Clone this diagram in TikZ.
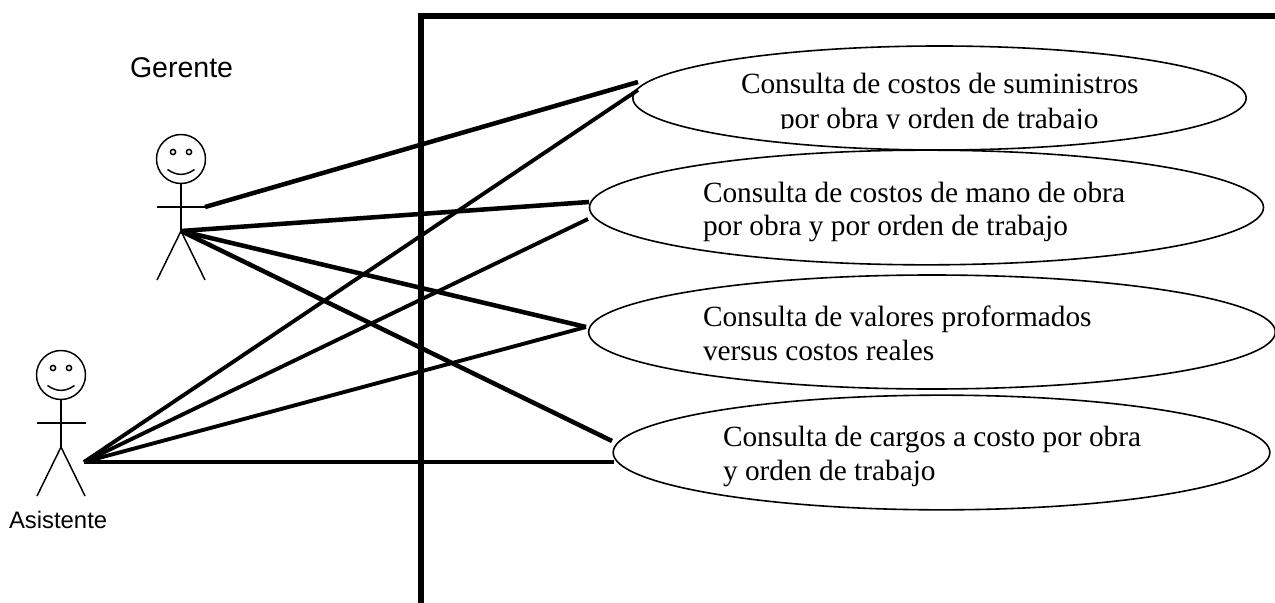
\documentclass[tikz,border=0pt]{standalone}
\usepackage{fontspec}
\usetikzlibrary{shapes.geometric}
\setmainfont{Liberation Serif}
\newfontfamily\arialf{Liberation Sans}
\tikzset{
  px/.style={x=0.75pt,y=-0.75pt},
  frameline/.style={line width=4.4pt},
  link/.style={line width=2.9pt},
  linkb/.style={line width=3.4pt},
  usecase/.style={draw,ellipse,line width=1.2pt,inner sep=0pt,outer sep=0pt},
  actorline/.style={line width=1.1pt},
  uctext/.style={font=\fontsize{22}{26}\selectfont,anchor=base west,inner sep=0pt,outer sep=0pt},
  actorname/.style={anchor=base west,inner sep=0pt,outer sep=0pt}
}
\newcommand{\stickman}[2]{%
  \draw[actorline] (#1,#2) circle [radius=24.5];
  \draw[actorline] (#1-8,#2-7) circle [radius=2.6];
  \draw[actorline] (#1+8,#2-7) circle [radius=2.6];
  \draw[actorline] (#1-13.5,#2+10.5) .. controls (#1-4,#2+17) and (#1+4,#2+17) .. (#1+13.5,#2+10.5);
  \draw[actorline] (#1,#2+24.5) -- (#1,#2+72);
  \draw[actorline] (#1-24.5,#2+48) -- (#1+24.5,#2+48);
  \draw[actorline] (#1-24,#2+121) -- (#1,#2+72) -- (#1+24,#2+121);
}
\begin{document}
\begin{tikzpicture}[px]
\useasboundingbox (0,0) rectangle (1275,603);
\draw[frameline] (421,603) -- (421,16) -- (1275,16);
\stickman{181}{159}
\stickman{61}{375}
\node[actorname,font=\arialf\fontsize{21.4}{24}\selectfont] (gerente) at (130,77) {Gerente};
\node[actorname,font=\arialf\fontsize{17.9}{20}\selectfont] (asistente) at (9,528) {Asistente};
\node[usecase,minimum width=460pt,minimum height=78pt] (e1) at (939.5,98) {};
\node[usecase,minimum width=505.5pt,minimum height=86pt] (e2) at (926.5,207.5) {};
\node[usecase,minimum width=515pt,minimum height=85.5pt] (e3) at (932,332) {};
\node[usecase,minimum width=492.5pt,minimum height=86pt] (e4) at (941.5,452.5) {};
\coordinate (g1) at (205,207);
\coordinate (g2) at (181,231);
\coordinate (a1) at (84,462);
\coordinate (t1a) at (638,82);
\coordinate (t1b) at (638,90);
\coordinate (t2a) at (589,202);
\coordinate (t2b) at (588,219);
\coordinate (t3) at (586,327);
\coordinate (t4a) at (612,441);
\coordinate (t4b) at (614,462);
\draw[linkb] (g1) -- (t1a);
\draw[linkb] (g2) -- (t2a);
\draw[linkb] (g2) -- (t3);
\draw[linkb] (g2) -- (t4a);
\draw[link] (a1) -- (t1b);
\draw[link] (a1) -- (t2b);
\draw[link] (a1) -- (t3);
\draw[link] (a1) -- (t4b);
\begin{scope}
\clip (700,60) rectangle (1200,128);
\node[uctext] (t1) at (741,93) {Consulta de costos de suministros};
\node[uctext] (t1l) at (780,128) {por obra y orden de trabajo};
\end{scope}
\node[uctext] (t2) at (703,202) {Consulta de costos de mano de obra};
\node[uctext] (t2l) at (703,235) {por obra y por orden de trabajo};
\node[uctext] (t3t) at (703,326) {Consulta de valores proformados};
\node[uctext] (t3l) at (703,360) {versus costos reales};
\node[uctext] (t4t) at (723,446) {Consulta de cargos a costo por obra};
\node[uctext] (t4l) at (723,480) {y orden de trabajo};
\end{tikzpicture}
\end{document}
